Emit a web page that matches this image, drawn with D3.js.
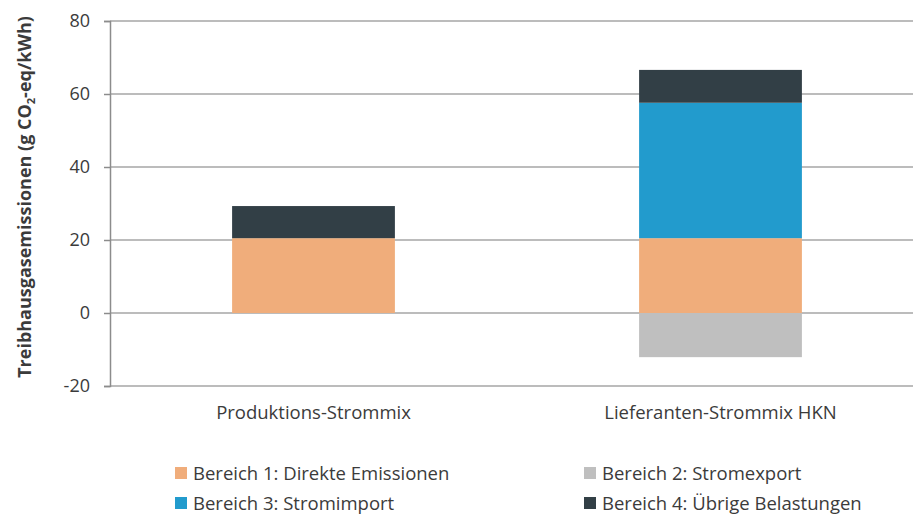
<!DOCTYPE html>
<html>
<head>
<meta charset="utf-8">
<script src="https://cdn.jsdelivr.net/npm/d3@7"></script>
<style>
  body { margin: 0; background: #fff; }
  text { font-family: "Open Sans", sans-serif; fill: #3b3b3b; }
</style>
</head>
<body>
<div id="chart"></div>
<script>
var svgWidth = 913;
var svgHeight = 515;

// categories and stacked series (g CO2-eq/kWh)
var categories = ["Produktions-Strommix", "Lieferanten-Strommix HKN"];
var seriesNames = ["Bereich 1: Direkte Emissionen", "Bereich 2: Stromexport", "Bereich 3: Stromimport", "Bereich 4: Übrige Belastungen"];
var bereich1 = [20.5, 20.5];
var bereich2 = [0, -12.1];
var bereich3 = [0, 37.1];
var bereich4 = [8.8, 9.0];
var yTicks = [-20, 0, 20, 40, 60, 80];
var colors = ["#F0AD7B", "#BFBFBF", "#229BCD", "#323F46"];

var seriesValues = [bereich1, bereich2, bereich3, bereich4];

var svg = d3.select("#chart")
  .append("svg")
  .attr("width", svgWidth)
  .attr("height", svgHeight);

var xScale = d3.scaleBand()
  .domain(categories)
  .range([110, 924])
  .paddingInner(0.6)
  .paddingOuter(0.3);

var yScale = d3.scaleLinear()
  .domain([-20, 80])
  .range([386, 21]);

// gridlines
svg.append("g")
  .selectAll("line")
  .data(yTicks)
  .enter()
  .append("line")
  .attr("x1", 110)
  .attr("x2", 913)
  .attr("y1", d => yScale(d))
  .attr("y2", d => yScale(d))
  .attr("stroke", "#a6a6a6")
  .attr("stroke-width", 1.5);

// stacked bars: positives stack up from 0, negatives down from 0
categories.forEach(function(cat, i) {
  var pos = 0, neg = 0;
  seriesValues.forEach(function(vals, s) {
    var v = vals[i];
    if (v === 0) return;
    var y0, y1;
    if (v > 0) { y0 = pos; y1 = pos + v; pos = y1; }
    else { y0 = neg + v; y1 = neg; neg = y0; }
    svg.append("rect")
      .attr("x", xScale(cat))
      .attr("width", xScale.bandwidth())
      .attr("y", yScale(y1))
      .attr("height", yScale(y0) - yScale(y1))
      .attr("fill", colors[s]);
  });
});

// y axis
var leftAxis = d3.axisLeft(yScale)
  .tickValues(yTicks)
  .tickFormat(d => String(d))
  .tickSize(6)
  .tickPadding(14);

var yAxis = svg.append("g")
  .attr("transform", "translate(110,0)")
  .call(leftAxis);

yAxis.select(".domain").attr("stroke", "#8c8c8c").attr("stroke-width", 1.5);
yAxis.selectAll(".tick line").attr("stroke", "#8c8c8c").attr("stroke-width", 1.5);
yAxis.selectAll(".tick text")
  .style("font-size", "18px")
  .style("font-family", "'Open Sans', sans-serif")
  .attr("fill", "#3b3b3b");

// category labels
svg.append("g")
  .selectAll("text")
  .data(categories)
  .enter()
  .append("text")
  .attr("x", d => xScale(d) + xScale.bandwidth() / 2)
  .attr("y", 419)
  .attr("text-anchor", "middle")
  .style("font-size", "18.5px")
  .text(d => d);

// y axis title
var yTitle = svg.append("text")
  .attr("transform", "translate(31,197) rotate(-90)")
  .attr("text-anchor", "middle")
  .style("font-size", "18px")
  .style("font-weight", "bold");
yTitle.append("tspan").text("Treibhausgasemissionen (g CO");
yTitle.append("tspan").attr("dy", 4).style("font-size", "11px").text("2");
yTitle.append("tspan").attr("dy", -4).text("-eq/kWh)");

// legend
var legendPos = [[175, 473], [584, 473], [175, 503], [584, 503]];
var legend = svg.append("g")
  .selectAll("g")
  .data(seriesNames)
  .enter()
  .append("g")
  .attr("transform", (d, i) => `translate(${legendPos[i][0]}, ${legendPos[i][1]})`);

legend.append("rect")
  .attr("x", 0)
  .attr("y", -6)
  .attr("width", 12)
  .attr("height", 12)
  .attr("fill", (d, i) => colors[i]);

legend.append("text")
  .attr("x", 18)
  .attr("y", 6.5)
  .style("font-size", "18.5px")
  .text(d => d);
</script>
</body>
</html>
